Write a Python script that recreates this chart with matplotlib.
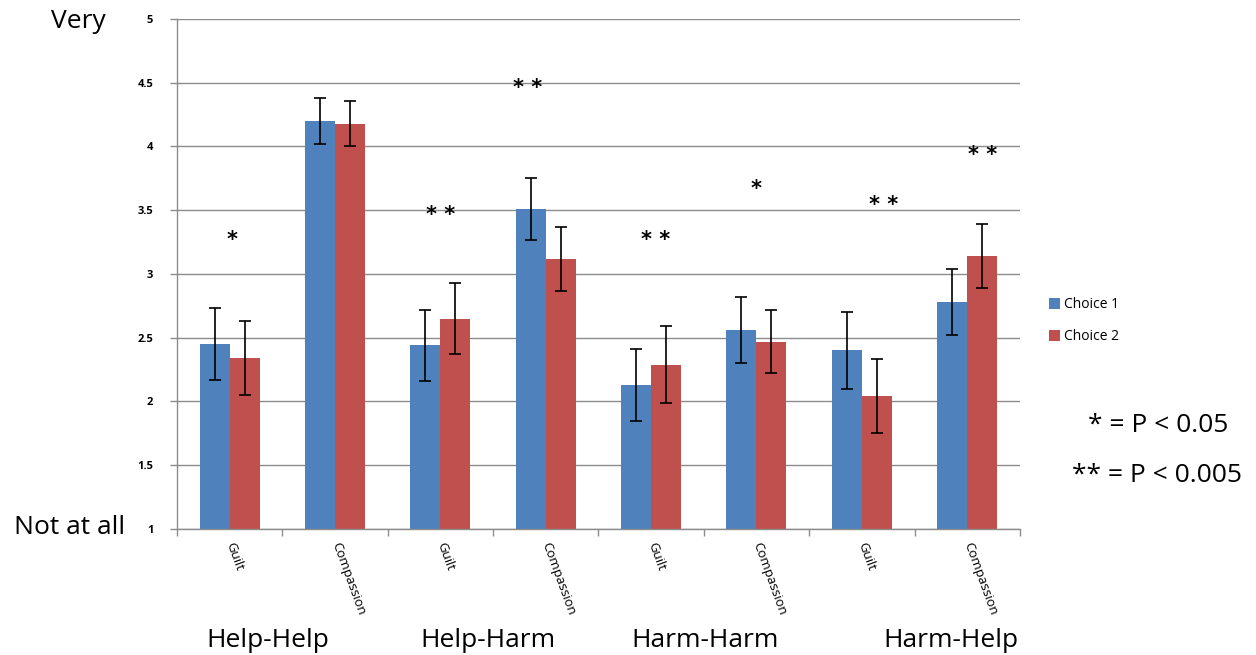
import matplotlib.pyplot as plt
import numpy as np

plt.rcParams['font.family'] = ['Open Sans', 'DejaVu Sans']

# data
emotions = ['Guilt', 'Compassion', 'Guilt', 'Compassion', 'Guilt', 'Compassion', 'Guilt', 'Compassion']
groups = ['Help-Help', 'Help-Harm', 'Harm-Harm', 'Harm-Help']
choice1 = [2.45, 4.20, 2.44, 3.51, 2.13, 2.56, 2.40, 2.78]
choice2 = [2.34, 4.18, 2.65, 3.12, 2.29, 2.47, 2.04, 3.14]
err1 = [0.28, 0.18, 0.28, 0.24, 0.28, 0.26, 0.30, 0.26]
err2 = [0.29, 0.18, 0.28, 0.25, 0.30, 0.25, 0.29, 0.25]
sig_labels = ['*', '* *', '* *', '* *', '*', '* *', '* *']
sig_x = [0.02, 2.0, 2.83, 4.04, 5.0, 6.21, 7.15]
sig_y = [3.27, 3.46, 4.46, 3.27, 3.67, 3.54, 3.93]

blue = '#4F81BD'
red = '#C0504D'
grid_col = '#8C8C8C'

fig = plt.figure(figsize=(12.56, 6.55), dpi=100)
ax = fig.add_axes([0.1409, 0.1924, 0.6711, 0.7786])

x = np.arange(len(emotions))
w = 0.285
ax.bar(x - w / 2, choice1, w, bottom=0, color=blue, label='Choice 1', zorder=2,
       yerr=err1, error_kw=dict(ecolor='black', elinewidth=1.2, capsize=4, capthick=1.2))
ax.bar(x + w / 2, choice2, w, bottom=0, color=red, label='Choice 2', zorder=2,
       yerr=err2, error_kw=dict(ecolor='black', elinewidth=1.2, capsize=4, capthick=1.2))

ax.set_xlim(-0.5, len(emotions) - 0.5)
ax.set_ylim(1, 5)
ax.set_yticks(np.arange(1, 5.01, 0.5))
ax.set_yticklabels(['1', '1.5', '2', '2.5', '3', '3.5', '4', '4.5', '5'], fontsize=8, fontweight='bold')
ax.yaxis.grid(True, color=grid_col, linewidth=1, zorder=0)
ax.set_axisbelow(True)

ax.set_xticks(x)
ax.set_xticklabels(emotions, rotation=-70, rotation_mode='anchor', ha='left', va='center', fontsize=9.5)
ax.tick_params(axis='x', which='major', length=0, pad=10)
ax.set_xticks(np.arange(-0.5, len(emotions), 1), minor=True)
ax.tick_params(axis='x', which='minor', length=5, color=grid_col, width=1)
ax.tick_params(axis='y', length=5, color=grid_col, width=1, pad=12)

for s in ['top', 'right']:
    ax.spines[s].set_visible(False)
for s in ['left', 'bottom']:
    ax.spines[s].set_color(grid_col)
    ax.spines[s].set_linewidth(1)

# significance stars
for lab, sx, sy in zip(sig_labels, sig_x, sig_y):
    ax.text(sx, sy, lab, ha='center', va='center', fontsize=15, fontweight='bold', family='DejaVu Sans')

# group labels under the categories
group_x = [0.36, 2.45, 4.51, 6.85]
for g, gx in zip(groups, group_x):
    ax.text(gx, -0.218, g, transform=ax.get_xaxis_transform(), ha='center', va='center', fontsize=19)

fig.text(78 / 1256, 1 - 22 / 655, 'Very', ha='center', va='center', fontsize=19)
fig.text(70 / 1256, 1 - 527 / 655, 'Not at all', ha='center', va='center', fontsize=19)

fig.legend(loc='upper left', bbox_to_anchor=(1036 / 1256, 1 - 285 / 655), frameon=False,
           fontsize=10, handlelength=0.8, handleheight=0.8, handletextpad=0.3, labelspacing=1.2)

fig.text(1158 / 1256, 1 - 425 / 655, '* = P < 0.05', ha='center', va='center', fontsize=19)
fig.text(1157 / 1256, 1 - 476 / 655, '** = P < 0.005', ha='center', va='center', fontsize=19)

fig.savefig('out.png', dpi=100)
